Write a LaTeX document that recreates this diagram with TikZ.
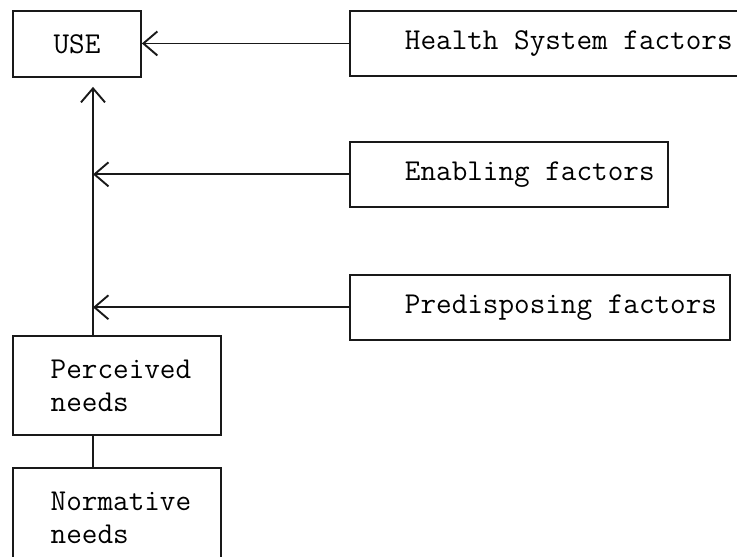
\documentclass[tikz,border=0pt]{standalone}
\usepackage{fontspec}
\usetikzlibrary{arrows.meta,positioning}

\begin{document}
\begin{tikzpicture}[x=1pt, y=-1pt, node distance=1cm]

\tikzstyle{box}=[rectangle, draw=black!90, line width=1.9pt, font=\ttfamily\fontsize{30.3}{33}\selectfont, align=left, inner sep=0pt]
\tikzstyle{factor}=[box, minimum height=65pt, inner xsep=13pt, anchor=north west]
\tikzstyle{needs}=[box, minimum width=208pt, minimum height=99pt, anchor=north west]
\tikzstyle{pil}=[-{Straight Barb[length=14pt, width=24pt]}, line width=1.9pt, draw=black!90]

\useasboundingbox (0,0) rectangle (737,557);

\node[box, minimum width=128pt, minimum height=66pt, anchor=north west] (use) at (12,10) {USE};
\node[factor] (health) at (349,10) {\hspace*{42pt}Health System factors};
\node[factor, below=64pt of health.south west, anchor=north west] (enabling) {\hspace*{42pt}Enabling factors};
\node[factor, below=66pt of enabling.south west, anchor=north west] (predisposing) {\hspace*{42pt}Predisposing factors};
\node[needs] (perceived) at (12,335) {\hspace*{8pt}Perceived\\\hspace*{8pt}needs};
\node[needs, below=31pt of perceived.south west, anchor=north west] (normative) {\hspace*{8pt}Normative\\\hspace*{8pt}needs};

\coordinate (trunk) at (93,0);

\draw[pil] (health.west) -- (use.east |- health.west);
\draw[pil, shorten >=9pt] (perceived.north -| trunk) -- (use.south -| trunk);
\draw[pil] (enabling.west) -- (enabling.west -| trunk);
\draw[pil] (predisposing.west) -- (predisposing.west -| trunk);
\draw[line width=1.9pt, draw=black!90] (perceived.south -| trunk) -- (normative.north -| trunk);

\end{tikzpicture}
\end{document}
